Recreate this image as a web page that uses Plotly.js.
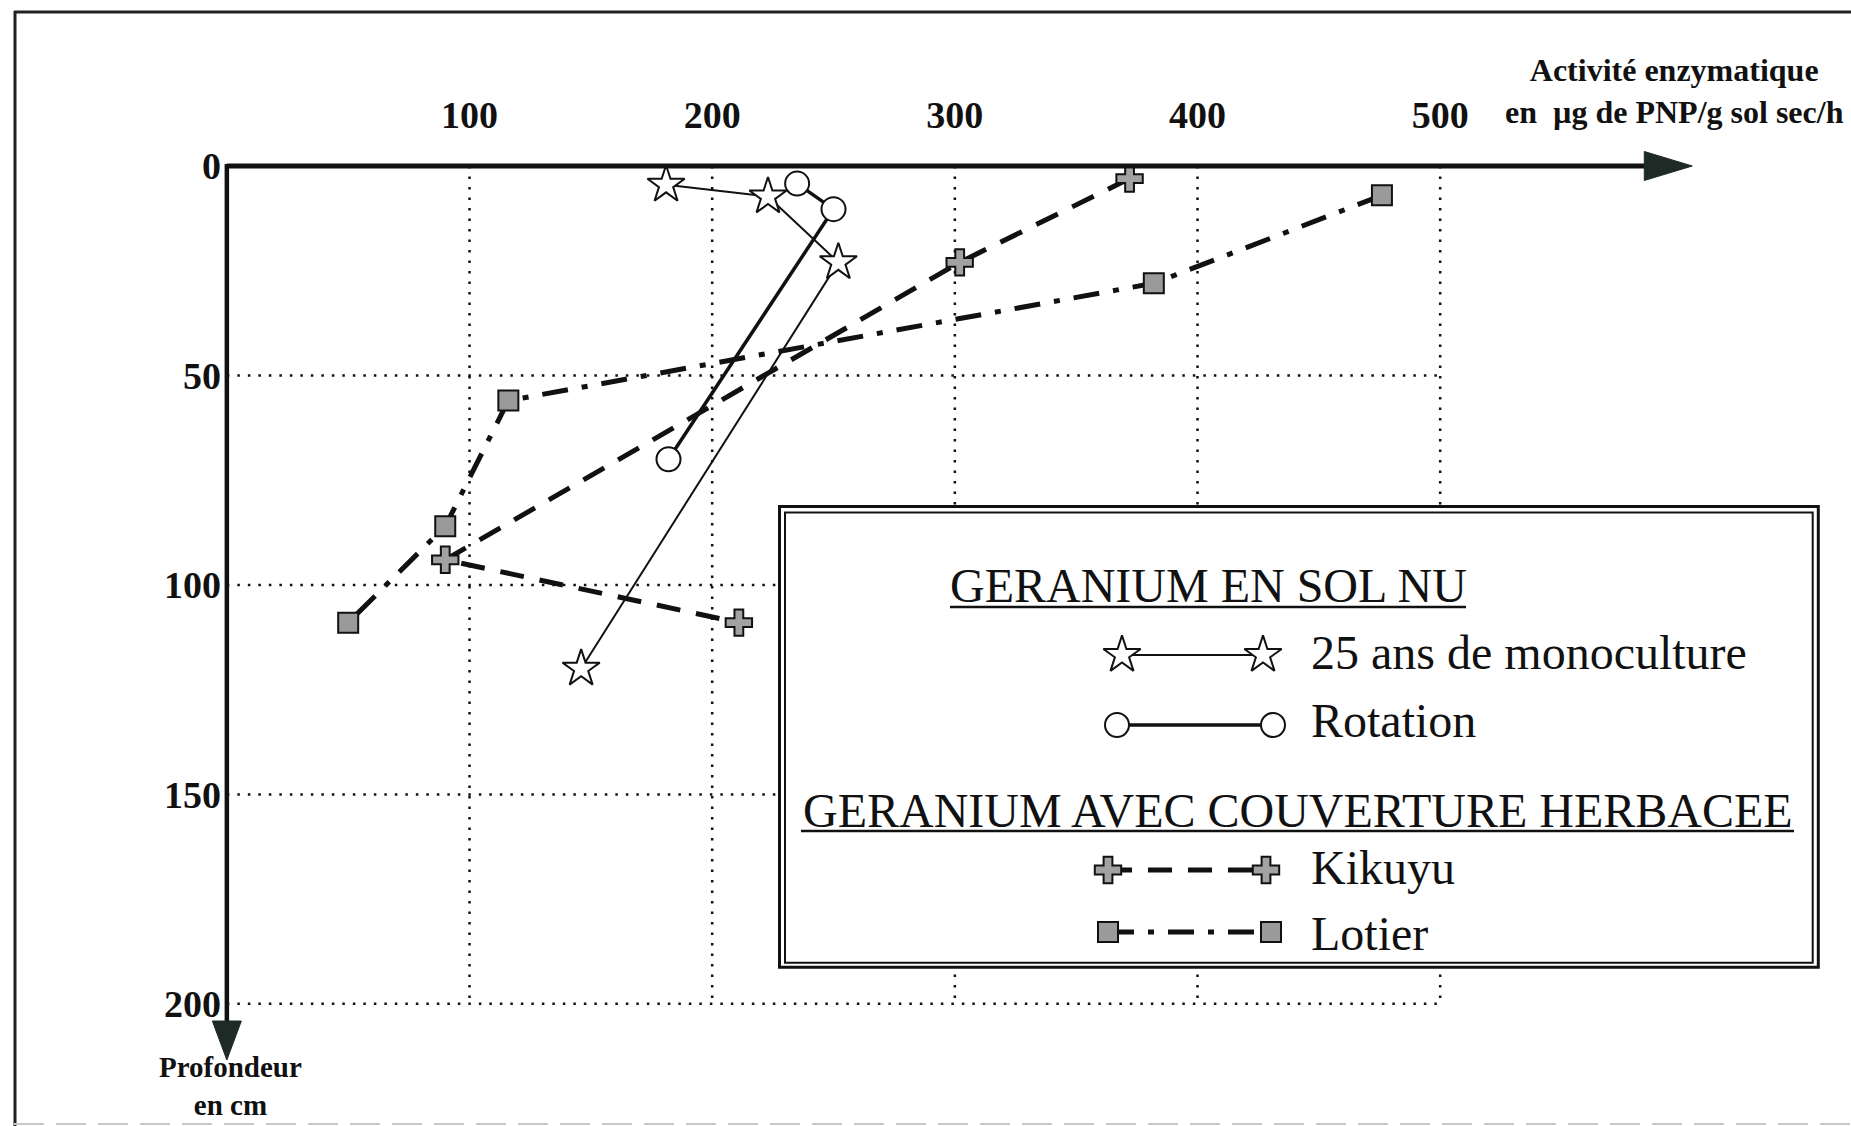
<!DOCTYPE html>
<html><head><meta charset="utf-8">
<script src="https://cdn.plot.ly/plotly-3.0.1.min.js"></script>
<style>html,body{margin:0;padding:0;background:#fff;} #chart{width:1851px;height:1126px;}</style>
</head><body><div id="chart"></div>
<script>
// ---------- data ----------
const monoX = [181, 223, 252, 146];
const monoY = [4.5, 7.3, 23, 120];
const rotX = [235, 250, 182];
const rotY = [4.2, 10.3, 70];
const kikX = [372, 302, 90, 211];
const kikY = [3, 23, 94, 109];
const lotX = [476, 382, 116, 90, 50];
const lotY = [7, 28, 56, 86, 109];
const xTicks = [100, 200, 300, 400, 500];
const yTicks = [0, 50, 100, 150, 200];
const seriesNames = ['25 ans de monoculture', 'Rotation', 'Kikuyu', 'Lotier'];
const groupTitles = ['GERANIUM EN SOL NU', 'GERANIUM AVEC COUVERTURE HERBACEE'];
const xTitle = ['Activité enzymatique', 'en\u00a0 µg de PNP/g sol sec/h'];
const yTitle = ['Profondeur', 'en cm'];

// ---------- layout constants ----------
const W = 1851, H = 1126;
const M = {l: 222, r: 25, t: 137, b: 66};
const XR = [-2, 659], YR = [213.4, -6.92];
const XEND = 603.9, YEND = 213.4, XMAX = 500, YMAX = 200;
const pw = W - M.l - M.r, ph = H - M.t - M.b;
const pX = px => (px - M.l) / pw;
const pY = py => (H - M.b - py) / ph;
const dX = v => (v - XR[0]) / (XR[1] - XR[0]);   // data -> paper via the axis range
const dY = v => (v - YR[0]) / (YR[1] - YR[0]);
const FONT = '"Liberation Serif", "Times New Roman", serif';

const styles = [
  {line: {color: '#111', width: 2, dash: 'solid'}, marker: {symbol: 'star', size: 28, color: '#fff', line: {color: '#111', width: 2}}},
  {line: {color: '#111', width: 3.5, dash: 'solid'}, marker: {symbol: 'circle', size: 24, color: '#fff', line: {color: '#111', width: 2}}},
  {line: {color: '#111', width: 5, dash: '24px,16px'}, marker: {symbol: 'cross', size: 22, color: '#a2a2a2', line: {color: '#111', width: 2}}},
  {line: {color: '#111', width: 5, dash: '26px,14px,6px,14px'}, marker: {symbol: 'square', size: 20, color: '#9a9a9a', line: {color: '#111', width: 2}}}
];
const seriesX = [monoX, rotX, kikX, lotX];
const seriesY = [monoY, rotY, kikY, lotY];

const traces = seriesX.map((xs, i) => ({
  type: 'scatter', mode: 'lines+markers', x: xs, y: seriesY[i], name: seriesNames[i],
  line: styles[i].line, marker: styles[i].marker, cliponaxis: false, xaxis: 'x', yaxis: 'y'
}));

// legend layout (pixel positions of the legend box, on helper axes x2/y2)
const legRows = [
  {x0: 1122, x1: 1263, y: 655, ty: 652},
  {x0: 1117, x1: 1273, y: 725, ty: 720},
  {x0: 1108, x1: 1266, y: 870, ty: 867},
  {x0: 1108, x1: 1271, y: 932, ty: 933}
];
legRows.forEach((r, i) => {
  traces.push({
    type: 'scatter', mode: 'lines+markers', x: [r.x0, r.x1], y: [r.y, r.y],
    line: styles[i].line, marker: styles[i].marker, cliponaxis: false,
    xaxis: 'x2', yaxis: 'y2', hoverinfo: 'skip'
  });
});

const shapes = [];
// frame
shapes.push({type: 'line', xref: 'paper', yref: 'paper', x0: pX(15), x1: pX(15), y0: pY(11), y1: pY(1130), line: {color: '#222', width: 3}});
shapes.push({type: 'line', xref: 'paper', yref: 'paper', x0: pX(14), x1: pX(1860), y0: pY(12), y1: pY(12), line: {color: '#222', width: 3}});
shapes.push({type: 'line', xref: 'paper', yref: 'paper', x0: pX(14), x1: pX(1860), y0: pY(1124), y1: pY(1124), line: {color: '#c8c8c8', width: 2, dash: '30px,12px'}});
// grid
xTicks.forEach(v => shapes.push({type: 'line', xref: 'x', yref: 'y', layer: 'below', x0: v, x1: v, y0: 0, y1: YMAX, line: {color: '#111', width: 2.5, dash: '2.5px,8px'}}));
yTicks.filter(v => v > 0).forEach(v => shapes.push({type: 'line', xref: 'x', yref: 'y', layer: 'below', x0: 0, x1: XMAX, y0: v, y1: v, line: {color: '#111', width: 2.5, dash: '2.5px,8px'}}));
// axes with arrows
shapes.push({type: 'line', xref: 'x', yref: 'y', x0: 0, x1: XEND - 12, y0: 0, y1: 0, line: {color: '#111', width: 5}});
shapes.push({type: 'line', xref: 'x', yref: 'y', x0: 0, x1: 0, y0: -0.5, y1: YEND - 6, line: {color: '#111', width: 4.5}});
shapes.push({type: 'path', xref: 'paper', yref: 'paper', xsizemode: 'pixel', ysizemode: 'pixel', xanchor: dX(XEND), yanchor: dY(0),
  path: 'M0,0L-48,14.5L-48,-14.5Z', fillcolor: '#1d2a26', line: {color: '#1d2a26', width: 1}});
shapes.push({type: 'path', xref: 'paper', yref: 'paper', xsizemode: 'pixel', ysizemode: 'pixel', xanchor: dX(0), yanchor: dY(YEND),
  path: 'M0,0L-14.5,39L14.5,39Z', fillcolor: '#1d2a26', line: {color: '#1d2a26', width: 1}});
// legend box (double frame)
shapes.push({type: 'rect', xref: 'x2', yref: 'y2', layer: 'below', x0: 779.5, x1: 1818.3, y0: 506.5, y1: 967.3, fillcolor: '#fff', line: {color: '#111', width: 3}});
shapes.push({type: 'rect', xref: 'x2', yref: 'y2', layer: 'below', x0: 785, x1: 1812.7, y0: 512.5, y1: 962.7, line: {color: '#111', width: 2}});
// underlines of group titles
shapes.push({type: 'line', xref: 'x2', yref: 'y2', x0: 950, x1: 1466, y0: 607, y1: 607, line: {color: '#111', width: 2.5}});
shapes.push({type: 'line', xref: 'x2', yref: 'y2', x0: 801, x1: 1794, y0: 831, y1: 831, line: {color: '#111', width: 2.5}});

const legFont = {family: FONT, size: 48, color: '#111'};
const annotations = [
  {xref: 'paper', yref: 'paper', x: pX(1674), y: pY(91), text: xTitle.join('<br>'), showarrow: false,
   xanchor: 'center', yanchor: 'middle', font: {family: FONT, size: 32, color: '#111', weight: 700}},
  {xref: 'paper', yref: 'paper', x: pX(230), y: pY(1086), text: yTitle.join('<br>'), showarrow: false,
   xanchor: 'center', yanchor: 'middle', font: {family: FONT, size: 29, color: '#111', weight: 700}},
  {xref: 'x2', yref: 'y2', x: 1208, y: 585, text: groupTitles[0], showarrow: false, xanchor: 'center', yanchor: 'middle', font: legFont},
  {xref: 'x2', yref: 'y2', x: 1297.5, y: 810, text: groupTitles[1], showarrow: false, xanchor: 'center', yanchor: 'middle', font: legFont}
];
legRows.forEach((r, i) => annotations.push({xref: 'x2', yref: 'y2', x: 1309, y: r.ty, text: seriesNames[i],
  showarrow: false, xanchor: 'left', yanchor: 'middle', font: legFont}));

const tickFont = {family: FONT, size: 38, color: '#111', weight: 700};
const layout = {
  width: W, height: H, margin: M, showlegend: false,
  paper_bgcolor: '#fff', plot_bgcolor: 'rgba(0,0,0,0)',
  xaxis: {range: XR, side: 'top', tickmode: 'array', tickvals: xTicks, ticktext: xTicks.map(String),
    showgrid: false, zeroline: false, showline: false, ticks: '', tickfont: tickFont, anchor: 'y'},
  yaxis: {range: YR, tickmode: 'array', tickvals: yTicks, ticktext: yTicks.map(String),
    showgrid: false, zeroline: false, showline: false, ticks: '', tickfont: tickFont, anchor: 'x'},
  xaxis2: {range: [M.l, W - M.r], domain: [0, 1], visible: false, anchor: 'y2'},
  yaxis2: {range: [H - M.b, M.t], domain: [0, 1], visible: false, anchor: 'x2'},
  shapes: shapes, annotations: annotations
};
Plotly.newPlot('chart', traces, layout, {staticPlot: true, displayModeBar: false});
</script></body></html>
